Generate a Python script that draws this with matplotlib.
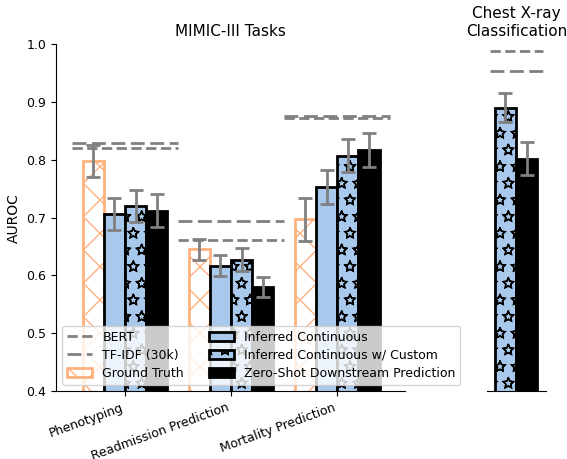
import numpy as np
import matplotlib.pyplot as plt
import matplotlib.hatch as mhatch

# hollow star hatch, like the reference
mhatch.Stars.filled = False

tasks = ['Phenotyping', 'Readmission Prediction', 'Mortality Prediction']

ground_truth = [0.798, 0.645, 0.697]
ground_truth_err = [0.028, 0.018, 0.037]
inferred = [0.706, 0.617, 0.753]
inferred_err = [0.027, 0.018, 0.030]
inferred_custom = [0.720, 0.627, 0.807]
inferred_custom_err = [0.028, 0.020, 0.028]
zero_shot = [0.712, 0.580, 0.817]
zero_shot_err = [0.028, 0.018, 0.030]
bert = [0.820, 0.662, 0.872]
tfidf = [0.829, 0.694, 0.875]

# chest x-ray panel
cxr_custom, cxr_custom_err = 0.890, 0.025
cxr_zero_shot, cxr_zero_shot_err = 0.802, 0.029
cxr_bert = 0.988
cxr_tfidf = 0.953

orange = '#ffb27f'
blue = '#a9c9ec'
grey = 'grey'
w = 0.2
err_kw = dict(ecolor=grey, capsize=5, elinewidth=2, capthick=2)

fig = plt.figure(figsize=(5.67, 4.59), dpi=100)
ax = fig.add_axes([0.0988, 0.148, 0.6155, 0.756])
ax2 = fig.add_axes([0.859, 0.148, 0.104, 0.756])

x = np.arange(len(tasks))
ax.bar(x - 1.5 * w, ground_truth, w, yerr=ground_truth_err, facecolor='none', edgecolor=orange,
       hatch='x', linewidth=2, label='Ground Truth', error_kw=err_kw)
ax.bar(x - 0.5 * w, inferred, w, yerr=inferred_err, color=blue, edgecolor='black',
       linewidth=2, label='Inferred Continuous', error_kw=err_kw)
ax.bar(x + 0.5 * w, inferred_custom, w, yerr=inferred_custom_err, color=blue, edgecolor='black',
       hatch='*', linewidth=2, label='Inferred Continuous w/ Custom', error_kw=err_kw)
ax.bar(x + 1.5 * w, zero_shot, w, yerr=zero_shot_err, color='black', edgecolor='black',
       linewidth=2, label='Zero-Shot Downstream Prediction', error_kw=err_kw)

for i in range(len(tasks)):
    ax.hlines(bert[i], i - 0.5, i + 0.5, colors=grey, linestyles='--', lw=2,
              label='BERT' if i == 0 else None)
    ax.hlines(tfidf[i], i - 0.5, i + 0.5, colors=grey, linestyles=(0, (5, 2)), lw=2,
              label='TF-IDF (30k)' if i == 0 else None)

ax.set_xlim(-0.65, 2.64)
ax.set_ylim(0.4, 1.0)
ax.set_xticks(x)
ax.set_xticklabels(tasks, rotation=20, ha='right')
ax.tick_params(labelsize=9)
ax.set_ylabel('AUROC', fontsize=10)
ax.set_title('MIMIC-III Tasks', fontsize=11)
ax.spines['top'].set_visible(False)
ax.spines['right'].set_visible(False)

handles, labels = ax.get_legend_handles_labels()
order = ['BERT', 'TF-IDF (30k)', 'Ground Truth', 'Inferred Continuous',
         'Inferred Continuous w/ Custom', 'Zero-Shot Downstream Prediction']
hl = dict(zip(labels, handles))
ax.legend([hl[k] for k in order], order, loc='lower left', ncol=2, fontsize=9,
          handlelength=2.0, columnspacing=2.0, labelspacing=0.4)

ax2.bar(-0.1, cxr_custom, w, yerr=cxr_custom_err, color=blue, edgecolor='black',
        hatch='*', linewidth=2, error_kw=err_kw)
ax2.bar(0.1, cxr_zero_shot, w, yerr=cxr_zero_shot_err, color='black', edgecolor='black',
        linewidth=2, error_kw=err_kw)
ax2.hlines(cxr_bert, -0.25, 0.25, colors=grey, linestyles='--', lw=2)
ax2.hlines(cxr_tfidf, -0.25, 0.25, colors=grey, linestyles=(0, (5, 2)), lw=2)
ax2.set_xlim(-0.274, 0.283)
ax2.set_ylim(0.4, 1.0)
ax2.set_xticks([])
ax2.set_yticks([])
for s in ['top', 'right', 'left']:
    ax2.spines[s].set_visible(False)
ax2.set_title('Chest X-ray\nClassification', fontsize=11)

plt.savefig('out.png', dpi=100)
